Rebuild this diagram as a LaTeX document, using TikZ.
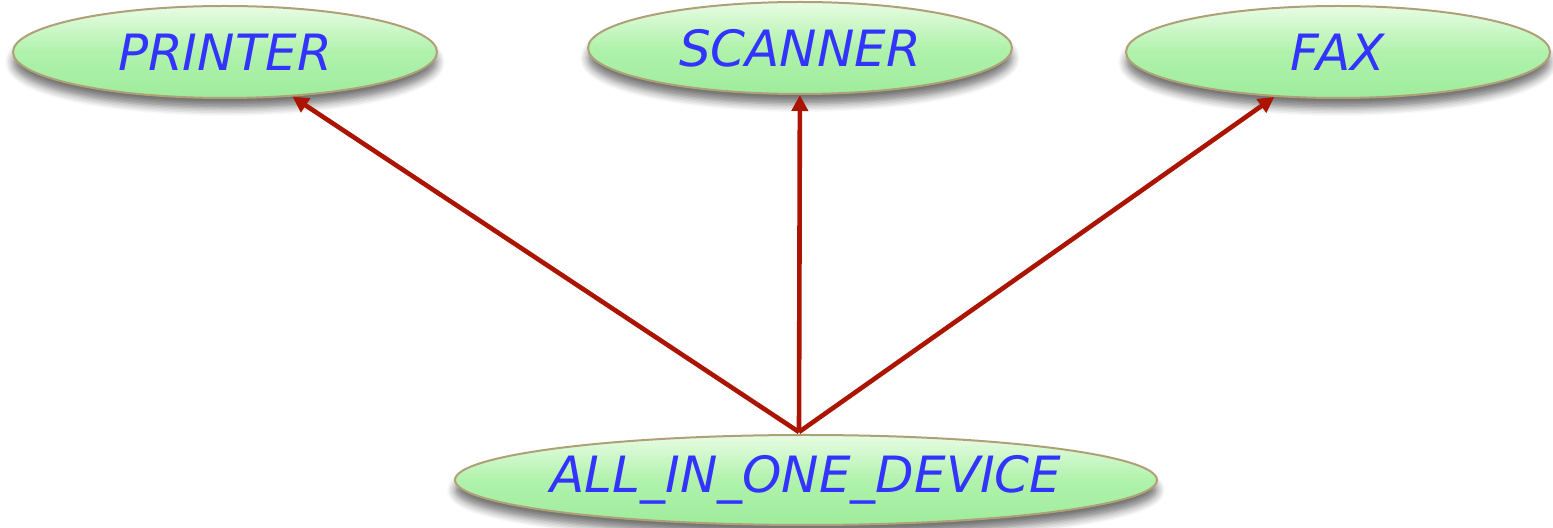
\documentclass[tikz,border=0pt]{standalone}
\usepackage{fontspec}
\setmainfont{DejaVu Sans}
\usetikzlibrary{shapes.geometric,arrows.meta,shadows.blur}
\definecolor{txtblue}{RGB}{51,51,255}
\definecolor{arrred}{RGB}{170,20,0}
\definecolor{gtop}{RGB}{232,252,228}
\definecolor{gmid}{RGB}{176,242,172}
\definecolor{gbot}{RGB}{158,236,156}
\definecolor{rimcol}{RGB}{176,160,120}
\newcommand{\lbl}[1]{\makebox[0pt][c]{#1}}
\tikzset{
  cls/.style={ellipse, draw=rimcol, line width=1pt, inner sep=0pt,
    top color=gtop, bottom color=gbot, middle color=gmid,
    blur shadow={shadow xshift=0pt, shadow yshift=-5pt, shadow blur steps=6, shadow blur radius=4pt, shadow opacity=55},
    text=txtblue, font=\fontsize{25}{30}\selectfont\itshape},
  inh/.style={draw=arrred, line width=2.3pt, -{Triangle[length=8pt,width=8pt]}}
}
\begin{document}
\begin{tikzpicture}[x=0.5pt,y=-0.5pt]
\useasboundingbox (0,0) rectangle (1553,528);
\node[cls, minimum width=212pt, minimum height=46pt] (printer) at (225,52) {\lbl{PRINTER}};
\node[cls, minimum width=212pt, minimum height=46pt] (scanner) at (800,48) {\lbl{SCANNER}};
\node[cls, minimum width=212pt, minimum height=46pt] (fax) at (1338,52) {\lbl{FAX}};
\node[cls, minimum width=351pt, minimum height=45pt] (all) at (806,480) {\lbl{ALL\_IN\_ONE\_DEVICE}};
\coordinate (src) at (799,432);
\draw[inh] (src) -- (printer);
\draw[inh] (src) -- (scanner);
\draw[inh] (src) -- (fax);
\end{tikzpicture}
\end{document}
